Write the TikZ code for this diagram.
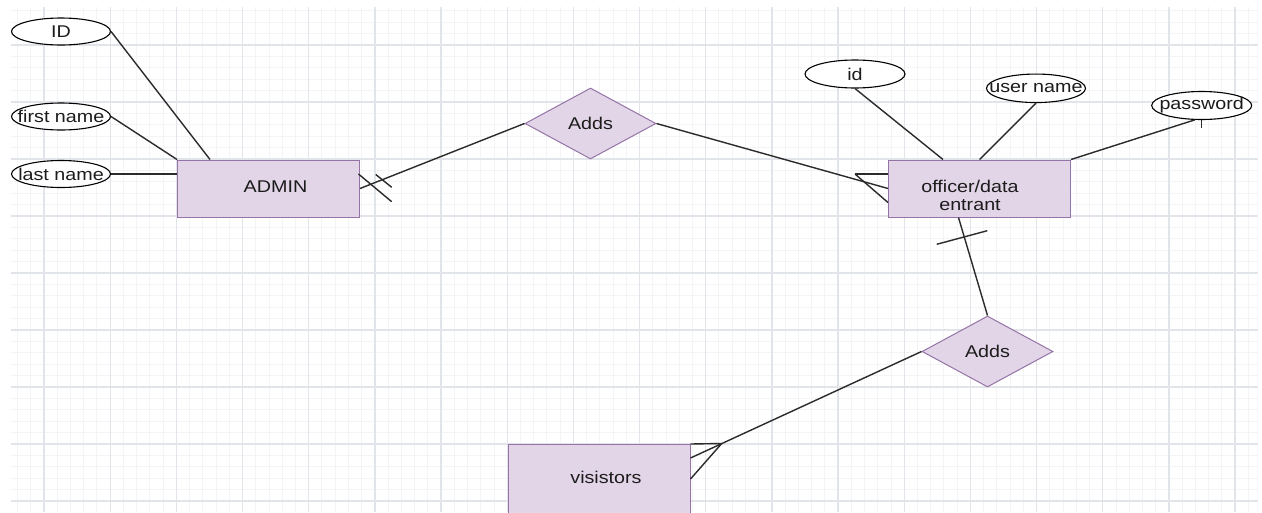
\documentclass[tikz,border=0pt]{standalone}
\usepackage{fontspec}
\setmainfont{Liberation Sans}[FakeStretch=1.16]
\usetikzlibrary{shapes.geometric}
\definecolor{entfill}{HTML}{E1D5E7}
\definecolor{entdraw}{HTML}{9673A6}
\definecolor{gridmajor}{HTML}{E1E4E8}
\definecolor{gridminor}{HTML}{F3F4F6}
\definecolor{ink}{HTML}{1C1C1C}
\definecolor{wire}{HTML}{2B2B2B}
\newcommand{\attrtext}[1]{\makebox[0pt]{#1}}
\begin{document}
\begin{tikzpicture}[x=1pt,y=-1pt,
  every node/.style={font=\fontsize{17}{19}\selectfont, text=ink},
  entity/.style={draw=entdraw, fill=entfill, line width=1pt,
    minimum width=182pt, minimum height=57pt, inner sep=0pt, anchor=north west},
  attr/.style={ellipse, draw=black, fill=white, line width=1.1pt,
    minimum width=99pt, minimum height=27pt, inner sep=0pt},
  relation/.style={diamond, draw=entdraw, fill=entfill, line width=1pt,
    minimum width=131pt, minimum height=71pt, inner sep=0pt},
  link/.style={draw=wire, line width=1.4pt},
  minorline/.style={draw=gridminor, line width=0.9pt},
  majorline/.style={draw=gridmajor, line width=1.3pt}]

\clip (0,0) rectangle (1262,512);
\fill[white] (0,0) rectangle (1262,512);

% background grid
\foreach \k in {-2,...,91}
  \draw[minorline] ({44+13.234*\k},7) -- ({44+13.234*\k},512);
\foreach \k in {-3,...,40}
  \draw[minorline] (11,{45+11.4*\k}) -- (1258,{45+11.4*\k});
\foreach \k in {0,...,18}
  \draw[majorline] ({44+66.17*\k},7) -- ({44+66.17*\k},512);
\foreach \k in {0,...,8}
  \draw[majorline] (11,{45+57*\k}) -- (1258,{45+57*\k});

% entities
\node[entity] (admin) at (177,159.5) {};
\node[entity] (officer) at (888,159.5) {};
\node[entity, minimum height=72pt] (vis) at (507.5,444) {};
\node (admintxt) at (275.5,187) {ADMIN};
\node[align=center, inner sep=0pt] (offtxt) at (970,195) {officer/data\\[-1pt]entrant};
\node (vistxt) at (606,477.5) {visistors};

% relationships
\node[relation] (adds1) at (590.5,123.5) {Adds};
\node[relation] (adds2) at (987.5,351.5) {Adds};

% attributes
\node[attr] (idA) at (61,31.5) {\attrtext{ID}};
\node[attr] (fn) at (61,116.5) {\attrtext{first name}};
\node[attr] (ln) at (61,174) {\attrtext{last name}};
\node[attr, minimum width=100pt, minimum height=28pt] (idO) at (855,74) {\attrtext{id}};
\node[attr, minimum height=28.5pt] (un) at (1036,88.3) {\attrtext{user name}};
\node[attr, minimum width=100pt, minimum height=28pt] (pw) at (1201.7,105.5) {\attrtext{password}};

% attribute links
\draw[link] (idA.east) -- ([xshift=33pt]admin.north west);
\draw[link] (fn.east) -- (admin.north west);
\draw[link] (ln.east) -- (ln.east -| admin.west);
\draw[link] (idO.south) -- ([xshift=55pt]officer.north west);
\draw[link] (un.south) -- (officer.north);
\draw[link] (officer.north east) -- (pw.-116);
\draw[link] (pw.south) -- ++(0,7.5);

% ADMIN -- Adds (mandatory one)
\draw[link] (admin.east) -- (adds1.west);
\draw[link] (358.5,174) -- (391.7,201.7);
\draw[link] (375.7,174.5) -- (391.7,187.3);

% Adds -- officer (many)
\draw[link] (adds1.east) -- (officer.west);
\coordinate (cf1) at (855,174);
\draw[link] (cf1) -- (cf1 -| officer.west);
\draw[link] (cf1) -- ([yshift=-14pt]officer.west);

% officer -- Adds (one)
\draw[link] ([xshift=70.5pt]officer.south west) -- (adds2.north);
\draw[link] (936.7,244.3) -- (987.3,230.7);

% Adds -- visitors (many)
\draw[link] (adds2.west) -- ([yshift=-14pt]vis.north east);
\coordinate (cf2) at (721.7,443.5);
\draw[link] (cf2) -- (vis.north east);
\draw[link] (cf2) -- ([yshift=-35pt]vis.north east);

\end{tikzpicture}
\end{document}
